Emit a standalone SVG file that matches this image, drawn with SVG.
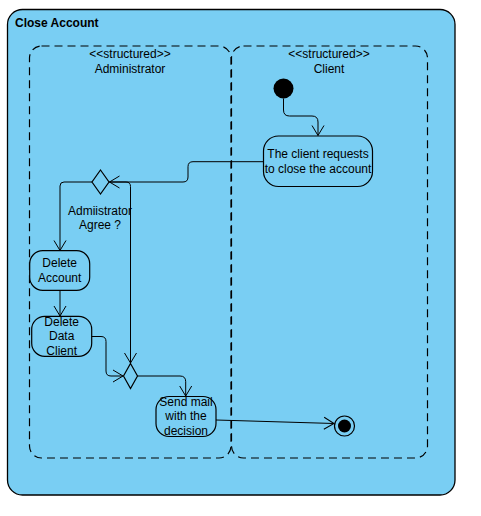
<svg xmlns="http://www.w3.org/2000/svg" width="481" height="516" viewBox="0 0 481 516">
<defs>
<marker id="open" viewBox="0 0 12 14" refX="11" refY="7" markerWidth="12" markerHeight="14" markerUnits="userSpaceOnUse" orient="auto">
<path d="M1,1 L11,7 L1,13" fill="none" stroke="#000" stroke-width="1"/>
</marker>
<style>
.frame{fill:#79CEF3;stroke:#000;stroke-width:1.3}
.lane{fill:none;stroke:#000;stroke-width:1.2;stroke-dasharray:8 5}
.act{fill:#79CEF3;stroke:#000;stroke-width:1.2}
.t{font-family:"Liberation Sans",Arial,sans-serif;font-size:12px;fill:#000;text-anchor:middle}
.title{font-family:"Liberation Sans",Arial,sans-serif;font-size:12px;font-weight:bold;fill:#000}
.edge{fill:none;stroke:#000;stroke-width:1;marker-end:url(#open)}
</style>
</defs>
<g id="frame">
<rect class="frame" x="7.5" y="9.5" width="447.5" height="485.5" rx="15" ry="15"/>
<text class="title" x="15" y="27">Close Account</text>
</g>
<g id="lane-admin">
<rect class="lane" x="29.5" y="46" width="201.5" height="412" rx="12" ry="12"/>
<text class="t" x="130" y="58">&lt;&lt;structured&gt;&gt;</text>
<text class="t" x="130" y="73">Administrator</text>
</g>
<g id="lane-client">
<rect class="lane" x="231.5" y="46" width="196" height="412" rx="12" ry="12"/>
<text class="t" x="329" y="58">&lt;&lt;structured&gt;&gt;</text>
<text class="t" x="329" y="73">Client</text>
</g>
<g id="initial">
<circle cx="283.5" cy="88.5" r="10" fill="#000"/>
</g>
<g id="client-request">
<rect class="act" x="263.5" y="136" width="109" height="50.5" rx="15" ry="15"/>
<text class="t" x="318" y="158">The client requests</text>
<text class="t" x="318" y="173">to close the account</text>
</g>
<g id="decision">
<path class="act" d="M100.5,170 L109,182 L100.5,194 L92,182 Z"/>
<text class="t" x="100" y="215">Admiistrator</text>
<text class="t" x="100" y="229">Agree ?</text>
</g>
<g id="delete-account">
<rect class="act" x="29.7" y="250.7" width="60" height="39.6" rx="13" ry="13"/>
<text class="t" x="59.7" y="267">Delete</text>
<text class="t" x="59.7" y="282">Account</text>
</g>
<g id="delete-data">
<rect class="act" x="31.7" y="316.3" width="60" height="40" rx="13" ry="13"/>
<text class="t" x="61.7" y="326">Delete</text>
<text class="t" x="61.7" y="340">Data</text>
<text class="t" x="61.7" y="355">Client</text>
</g>
<g id="merge">
<path class="act" d="M130.5,363.5 L137.5,376 L130.5,388.5 L123.5,376 Z"/>
</g>
<g id="send-mail">
<rect class="act" x="156" y="396.5" width="60" height="40" rx="13" ry="13"/>
<text class="t" x="186" y="406">Send mail</text>
<text class="t" x="186" y="420">with the</text>
<text class="t" x="186" y="435">decision</text>
</g>
<g id="final">
<circle cx="344.5" cy="426" r="10" fill="none" stroke="#000" stroke-width="1.2"/>
<circle cx="344.5" cy="426" r="6.5" fill="#000"/>
</g>
<g id="connectors">
<path class="edge" d="M283.5,98.5 V110 Q283.5,116 289.5,116 H312 Q318,116 318,122 V135.5"/>
<path class="edge" d="M263.5,161.7 H193 Q188,161.7 188,166.7 V177 Q188,182 183,182 H109.5"/>
<path class="edge" d="M92,182 H64 Q60,182 60,186 V250.5"/>
<path class="edge" d="M109,182 H126 Q130.5,182 130.5,186.5 V363"/>
<path class="edge" d="M60,290.3 V316"/>
<path class="edge" d="M91.7,336.5 H101 Q106,336.5 106,341.5 V371 Q106,376 111,376 H123"/>
<path class="edge" d="M137.5,376 H180 Q185.7,376 185.7,381.7 V396"/>
<path class="edge" d="M216,420 L334,423.5"/>
</g>
</svg>
